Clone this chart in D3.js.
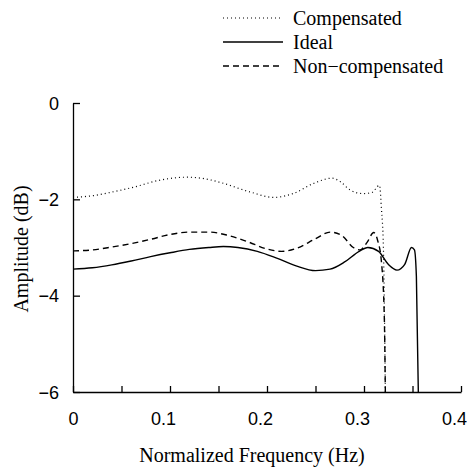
<html>
<head>
  <script src='https://d3js.org/d3.v7.min.js'></script>
</head>
<body style="margin:0;background:white">
<script>

var freqIdeal = [0, 0.02, 0.04, 0.06, 0.08, 0.10, 0.12, 0.14, 0.155, 0.17, 0.19, 0.21, 0.23, 0.25, 0.265, 0.28, 0.295, 0.304, 0.315, 0.325, 0.334, 0.342, 0.349, 0.352, 0.354, 0.356];
var ampIdeal  = [-3.45, -3.42, -3.36, -3.28, -3.19, -3.11, -3.04, -3.00, -2.98, -3.00, -3.08, -3.22, -3.38, -3.48, -3.45, -3.30, -3.08, -3.00, -3.08, -3.35, -3.47, -3.35, -3.00, -3.05, -3.6, -6];

var freqNonComp = [0, 0.02, 0.04, 0.06, 0.08, 0.10, 0.12, 0.14, 0.16, 0.18, 0.20, 0.215, 0.23, 0.25, 0.265, 0.277, 0.289, 0.296, 0.303, 0.31, 0.314, 0.318, 0.321, 0.322];
var ampNonComp  = [-3.07, -3.05, -2.99, -2.92, -2.83, -2.73, -2.68, -2.68, -2.75, -2.88, -3.03, -3.08, -3.02, -2.82, -2.68, -2.75, -3.00, -3.05, -2.90, -2.69, -2.85, -3.3, -4.5, -6];

var freqComp = [0, 0.022, 0.04, 0.062, 0.09, 0.118, 0.135, 0.152, 0.183, 0.207, 0.227, 0.248, 0.267, 0.276, 0.286, 0.299, 0.308, 0.316, 0.318, 0.320, 0.322];
var ampComp  = [-1.96, -1.92, -1.85, -1.75, -1.60, -1.54, -1.57, -1.65, -1.85, -1.96, -1.88, -1.67, -1.56, -1.64, -1.81, -1.88, -1.86, -1.71, -2.2, -3.0, -6];

var xTicks = [0, 0.05, 0.1, 0.15, 0.2, 0.25, 0.3, 0.35, 0.4];
var xLabels = [0, 0.1, 0.2, 0.3, 0.4];
var yTicks = [0, -2, -4, -6];

var legendNames = ["Compensated", "Ideal", "Non\u2212compensated"];

var width = 467,
    height = 467,
    margin = {top: 103, right: 6, bottom: 75, left: 73};

var serif = "'Liberation Serif', 'DejaVu Serif', 'Times New Roman', serif";
var sans = "'Liberation Sans', Arial, sans-serif";

var svg = d3.select('body')
  .append('svg')
  .attr('width', width)
  .attr('height', height);

var x = d3.scaleLinear().domain([0, 0.4]).range([margin.left, width - margin.right]);
var y = d3.scaleLinear().domain([-6, 0]).range([height - margin.bottom, margin.top]);

// axes: left and bottom only, ticks pointing inward
var xAxis = d3.axisBottom(x)
  .tickValues(xTicks)
  .tickSizeInner(-6)
  .tickSizeOuter(0)
  .tickPadding(20)
  .tickFormat(function(d) { return xLabels.indexOf(d) >= 0 ? (d === 0 ? "0" : d3.format(".1f")(d)) : ""; });

var yAxis = d3.axisLeft(y)
  .tickValues(yTicks)
  .tickSizeInner(-7)
  .tickSizeOuter(0)
  .tickPadding(14)
  .tickFormat(function(d) { return d === 0 ? "0" : "\u2212" + Math.abs(d); });

var gx = svg.append('g')
  .attr('transform', 'translate(0,' + y(-6) + ')')
  .call(xAxis);

var gy = svg.append('g')
  .attr('transform', 'translate(' + x(0) + ',0)')
  .call(yAxis);

[gx, gy].forEach(function(g) {
  g.selectAll('path, line').attr('stroke', 'black').attr('stroke-width', 1.3);
  g.selectAll('text')
   .attr('fill', 'black')
   .style('font-family', sans)
   .attr('font-size', 18);
});
gy.selectAll('text').attr('dy', '0.35em');
// decimal labels sit a little left of their ticks in the original
gx.selectAll('text').attr('dx', function(d) { return d === 0 ? 0 : -7; });

// axis titles
svg.append('text')
  .attr('x', 252)
  .attr('y', 462)
  .attr('text-anchor', 'middle')
  .style('font-family', serif)
  .attr('font-size', 20)
  .text('Normalized Frequency (Hz)');

svg.append('text')
  .attr('transform', 'translate(28,249) rotate(-90)')
  .attr('text-anchor', 'middle')
  .style('font-family', serif)
  .attr('font-size', 20)
  .text('Amplitude (dB)');

// curves
var series = [
  {xs: freqComp, ys: ampComp, dash: '1,3', w: 1.2},
  {xs: freqIdeal, ys: ampIdeal, dash: null, w: 1.4},
  {xs: freqNonComp, ys: ampNonComp, dash: '6,4', w: 1.4}
];

var line = d3.line()
  .x(function(d) { return x(d[0]); })
  .y(function(d) { return y(d[1]); })
  .curve(d3.curveMonotoneX);

svg.selectAll('path.curve')
  .data(series)
  .enter()
  .append('path')
  .attr('class', 'curve')
  .attr('fill', 'none')
  .attr('stroke', 'black')
  .attr('stroke-width', function(d) { return d.w; })
  .attr('stroke-dasharray', function(d) { return d.dash; })
  .attr('d', function(d) { return line(d.xs.map(function(v, i) { return [v, d.ys[i]]; })); });

// legend, top right
var legend = svg.append('g')
  .selectAll('g')
  .data(series)
  .enter()
  .append('g')
  .attr('transform', function(d, i) { return 'translate(0,' + (25 + 24 * i) + ')'; });

legend.append('line')
  .attr('x1', 223)
  .attr('x2', 283)
  .attr('y1', -7)
  .attr('y2', -7)
  .attr('stroke', 'black')
  .attr('stroke-width', function(d) { return d.w; })
  .attr('stroke-dasharray', function(d) { return d.dash; });

legend.append('text')
  .attr('x', 293)
  .attr('y', 0)
  .style('font-family', serif)
  .attr('font-size', 20)
  .text(function(d, i) { return legendNames[i]; });

</script>
</body>
</html>
